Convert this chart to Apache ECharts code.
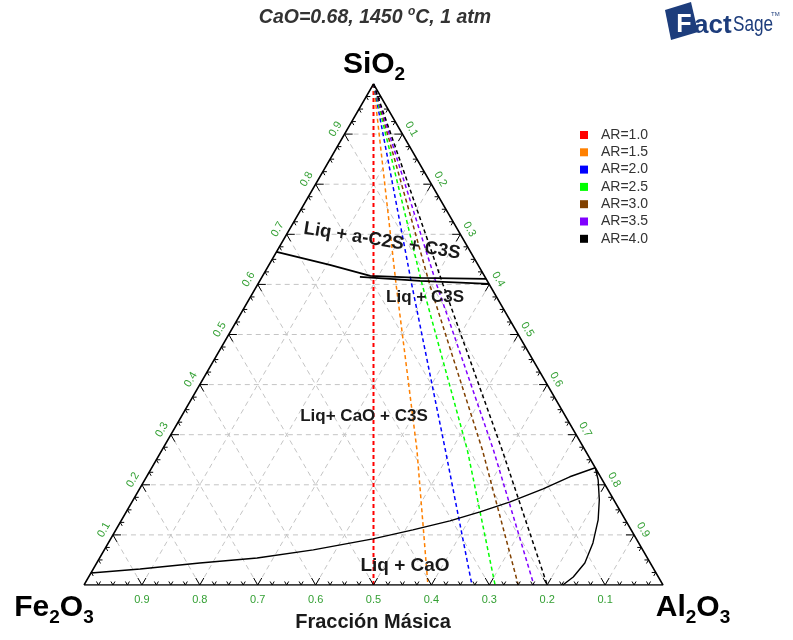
<!DOCTYPE html>
<html>
<head>
<meta charset="utf-8">
<script src="https://cdn.jsdelivr.net/npm/echarts@6/dist/echarts.min.js"></script>
<style>
html, body { margin: 0; padding: 0; background: #fff; }
#chart { width: 793px; height: 640px; }
</style>
</head>
<body>
<div id="chart"></div>
<script>
// puntos de composición: [SiO2, Al2O3]  (Fe2O3 = 1 - SiO2 - Al2O3)
const arNames = ['AR=1.0', 'AR=1.5', 'AR=2.0', 'AR=2.5', 'AR=3.0', 'AR=3.5', 'AR=4.0'];
const arColors = ['#ff0000', '#ff8000', '#0000ff', '#00ff00', '#804000', '#8000ff', '#000000'];
const ar10 = [[1, 0], [0.6, 0.2], [0.27, 0.365], [0, 0.5]];
const ar15 = [[1, 0], [0.6, 0.239], [0.27, 0.44], [0, 0.594]];
const ar20 = [[1, 0], [0.6, 0.266], [0.27, 0.489], [0, 0.67]];
const ar25 = [[1, 0], [0.6, 0.284], [0.27, 0.527], [0, 0.71]];
const ar30 = [[1, 0], [0.6, 0.297], [0.27, 0.553], [0, 0.75]];
const ar35 = [[1, 0], [0.6, 0.309], [0.27, 0.572], [0, 0.777]];
const ar40 = [[1, 0], [0.6, 0.32], [0.27, 0.587], [0, 0.8]];
const arLines = [ar10, ar15, ar20, ar25, ar30, ar35, ar40];

// límites de fase
const upperBoundA = [[0.665, 0], [0.639, 0.105], [0.617, 0.186], [0.613, 0.274], [0.611, 0.389]];
const upperBoundB = [[0.615, 0.169], [0.607, 0.277], [0.601, 0.399]];
const lowerBound = [[0.024, 0], [0.032, 0.081], [0.044, 0.178], [0.054, 0.272], [0.07, 0.361],
    [0.092, 0.453], [0.11, 0.513], [0.128, 0.568], [0.146, 0.611], [0.166, 0.653],
    [0.192, 0.697], [0.216, 0.731], [0.234, 0.766]];
const caoBound = [[0.234, 0.766], [0.21, 0.783], [0.17, 0.805], [0.13, 0.823], [0.084, 0.837],
    [0.044, 0.843], [0.016, 0.837], [0, 0.827]];

const tickValues = [0.1, 0.2, 0.3, 0.4, 0.5, 0.6, 0.7, 0.8, 0.9];
const tickLabels = ['0.1', '0.2', '0.3', '0.4', '0.5', '0.6', '0.7', '0.8', '0.9'];

const H = Math.sqrt(3) / 2;
function pt(p) { return [p[1] + p[0] / 2, p[0] * H]; }

// retícula punteada
const gridSegs = [];
tickValues.forEach(function (v) {
    gridSegs.push(pt([v, 0]).concat(pt([v, 1 - v])));
    gridSegs.push(pt([0, v]).concat(pt([1 - v, v])));
    gridSegs.push(pt([0, 1 - v]).concat(pt([1 - v, 0])));
});

// marcas de los ejes
const tickSegs = [];
for (let i = 1; i < 40; i++) {
    const t = i / 40;
    const L = (i % 4 === 0) ? 0.014 : 0.007;
    tickSegs.push(pt([0, t]).concat(pt([L, t])));
    tickSegs.push(pt([0, t]).concat(pt([L, t - L])));
    tickSegs.push(pt([t, 0]).concat(pt([t, L])));
    tickSegs.push(pt([t, 0]).concat(pt([t - L, L])));
    tickSegs.push(pt([t, 1 - t]).concat(pt([t, 1 - t - L])));
    tickSegs.push(pt([t, 1 - t]).concat(pt([t - L, 1 - t])));
}

// etiquetas de los ejes
const labelItems = [];
tickValues.forEach(function (v, i) {
    labelItems.push({ p: pt([0, 1 - v]), text: tickLabels[i], dx: 0, dy: 15, rot: 0 });
    labelItems.push({ p: pt([v, 0]), text: tickLabels[i], dx: -9, dy: -5, rot: Math.PI / 3 });
    labelItems.push({ p: pt([1 - v, v]), text: tickLabels[i], dx: 9, dy: -5, rot: -Math.PI / 3 });
});

function segRender(color, dash, width) {
    return function (params, api) {
        const a = api.coord([api.value(0), api.value(1)]);
        const b = api.coord([api.value(2), api.value(3)]);
        return {
            type: 'line',
            shape: { x1: a[0], y1: a[1], x2: b[0], y2: b[1] },
            style: { stroke: color, lineWidth: width, lineDash: dash }
        };
    };
}

const chart = echarts.init(document.getElementById('chart'));
const FONT = 'Arial, "Liberation Sans", sans-serif';

const series = [];
series.push({
    type: 'custom', coordinateSystem: 'cartesian2d', silent: true, z: 1,
    data: gridSegs, encode: { x: [0, 2], y: [1, 3] },
    renderItem: segRender('#c4c4c4', [5, 4], 1)
});
arLines.forEach(function (d, i) {
    series.push({
        name: arNames[i], type: 'line', showSymbol: false, silent: true, z: 3,
        data: d.map(pt),
        lineStyle: { color: arColors[i], width: i === 0 ? 2 : 1.5, type: [4, 3], opacity: 1 },
        itemStyle: { color: arColors[i] }
    });
});
[upperBoundA, upperBoundB, lowerBound, caoBound].forEach(function (d, i) {
    series.push({
        type: 'line', showSymbol: false, silent: true, z: 4,
        data: d.map(pt),
        lineStyle: { color: '#000', width: i < 2 ? 1.8 : 1.4 }
    });
});
series.push({
    type: 'line', showSymbol: false, silent: true, z: 5,
    data: [[0, 0], [1, 0], [0, 1], [0, 0]].map(pt),
    lineStyle: { color: '#000', width: 1.5 }
});
series.push({
    type: 'custom', coordinateSystem: 'cartesian2d', silent: true, z: 5,
    data: tickSegs, encode: { x: [0, 2], y: [1, 3] },
    renderItem: segRender('#000', null, 1)
});
series.push({
    type: 'custom', coordinateSystem: 'cartesian2d', silent: true, z: 6,
    data: labelItems.map(function (it) { return it.p; }),
    renderItem: function (params, api) {
        const it = labelItems[params.dataIndex];
        const c = api.coord([api.value(0), api.value(1)]);
        return {
            type: 'text', x: c[0] + it.dx, y: c[1] + it.dy, rotation: it.rot,
            style: { text: it.text, fill: '#34a034', fontSize: 11, fontFamily: FONT, align: 'center', verticalAlign: 'middle' }
        };
    }
});

function label(text, x, y, size, rot) {
    return {
        type: 'text', x: x, y: y, rotation: rot || 0, z: 10,
        style: { text: text, fill: '#1a1a1a', fontSize: size, fontWeight: 'bold', fontFamily: FONT, align: 'center', verticalAlign: 'middle' }
    };
}

function chem(parts, x, y) {
    return {
        type: 'text', x: x, y: y, z: 10,
        style: {
            text: parts, align: 'center', verticalAlign: 'middle', fill: '#000',
            rich: {
                m: { fontSize: 30, fontWeight: 'bold', fontFamily: FONT },
                s: { fontSize: 19, fontWeight: 'bold', fontFamily: FONT, padding: [20, 0, 0, 0] }
            }
        }
    };
}

chart.setOption({
    animation: false,
    grid: { left: 84, top: 84, width: 579, height: 501 },
    xAxis: { type: 'value', min: 0, max: 1, show: false },
    yAxis: { type: 'value', min: 0, max: H, show: false },
    legend: {
        data: arNames, orient: 'vertical', left: 580, top: 128, icon: 'rect',
        itemWidth: 8, itemHeight: 8, itemGap: 3.3, padding: 0,
        textStyle: { fontSize: 14, lineHeight: 14, color: '#333', fontFamily: FONT, padding: [0, 0, 0, 8] }
    },
    series: series,
    graphic: [
        {
            type: 'text', x: 375, y: 18, z: 10,
            style: {
                text: '{m|CaO=0.68, 1450 }{u|o}{m|C, 1 atm}', align: 'center', verticalAlign: 'middle', fill: '#333',
                rich: {
                    m: { fontSize: 19.5, fontWeight: 'bold', fontStyle: 'italic', fontFamily: FONT },
                    u: { fontSize: 12, fontWeight: 'bold', fontStyle: 'italic', fontFamily: FONT, padding: [0, 0, 12, 0] }
                }
            }
        },
        chem('{m|SiO}{s|2}', 374, 65),
        chem('{m|Fe}{s|2}{m|O}{s|3}', 54, 608),
        chem('{m|Al}{s|2}{m|O}{s|3}', 693, 608),
        label('Fracción Másica', 373, 622, 20),
        label('Liq + a-C2S + C3S', 382, 241, 18.5, -0.16),
        label('Liq + C3S', 425, 297, 17),
        label('Liq+ CaO + C3S', 364, 416, 17),
        label('Liq + CaO', 405, 566, 19),
        // logotipo
        { type: 'polygon', z: 10, shape: { points: [[665, 10], [691, 2], [698, 32], [671, 40]] }, style: { fill: '#1d3d7c' } },
        { type: 'text', x: 684, y: 25, z: 11, style: { text: 'F', fill: '#fff', fontSize: 25, fontWeight: 'bold', fontFamily: FONT, align: 'center', verticalAlign: 'middle' } },
        { type: 'text', x: 694, y: 26, z: 11, style: { text: 'act', fill: '#1d3d7c', fontSize: 26, fontWeight: 'bold', fontFamily: FONT, align: 'left', verticalAlign: 'middle' } },
        { type: 'text', x: 733, y: 25, z: 11, scaleX: 0.78, style: { text: 'Sage', fill: '#1d3d7c', fontSize: 22, fontFamily: FONT, align: 'left', verticalAlign: 'middle' } },
        { type: 'text', x: 771, y: 14, z: 11, style: { text: 'TM', fill: '#1d3d7c', fontSize: 6, fontFamily: FONT, align: 'left', verticalAlign: 'middle' } }
    ]
});
</script>
</body>
</html>
